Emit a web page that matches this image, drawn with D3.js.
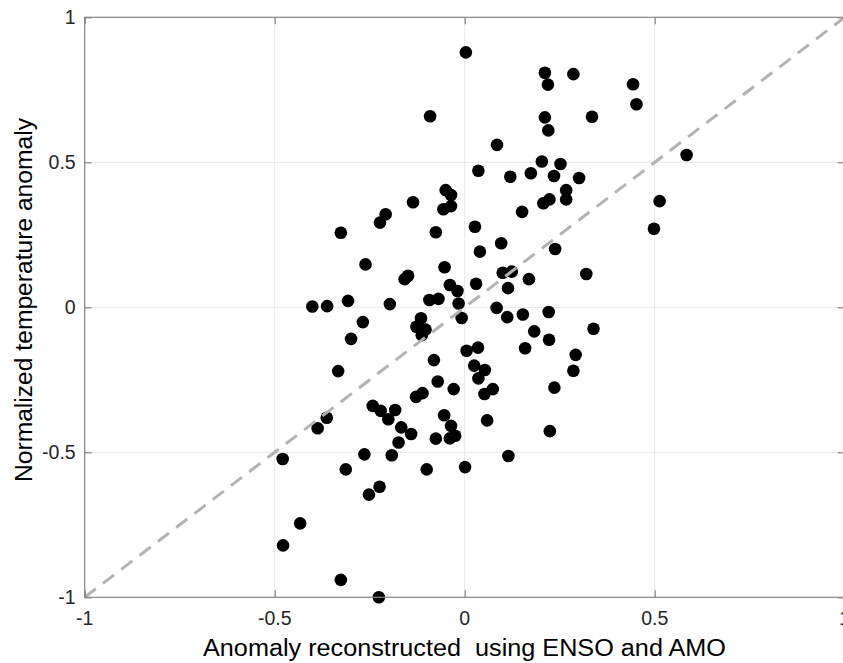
<!DOCTYPE html>
<html>
<head>
<meta charset="utf-8">
<script src="https://cdn.jsdelivr.net/npm/d3@7"></script>
<style>
    body { margin: 0; background: #fff; }
    svg { display: block; font-family: "Liberation Sans", Arial, Helvetica, sans-serif; }
</style>
</head>
<body>
<svg id="chart" width="843" height="663"></svg>
<script>
// reconstructed anomaly (x) and normalized temperature anomaly (y)
const reconstructed = [
    0.003, -0.091, 0.036, -0.050, -0.036, -0.136, -0.056, -0.036, -0.208, -0.223,
    -0.326, -0.076, 0.027, 0.040, -0.261, -0.053, -0.149, -0.158, -0.039, -0.019,
    0.030, -0.401, -0.362, -0.307, -0.197, -0.093, -0.069, -0.016, -0.268, -0.299,
    -0.115, -0.127, -0.103, -0.113, -0.008, 0.005, 0.035, 0.025, 0.036, -0.333,
    -0.081, -0.071, -0.029, -0.128, -0.111, -0.363, -0.387, -0.242, -0.221, -0.183,
    -0.201, -0.167, -0.141, -0.174, -0.054, -0.036, -0.025, -0.039, -0.076, -0.479,
    -0.313, -0.264, -0.192, -0.100, 0.001, -0.224, -0.252, -0.433, -0.478, -0.326,
    -0.226, 0.084, 0.112, 0.153, 0.221, 0.339, 0.183, 0.222, 0.159, 0.292,
    0.286, 0.053, 0.074, 0.052, 0.236, 0.059, 0.224, 0.115, 0.211, 0.286,
    0.219, 0.443, 0.452, 0.211, 0.335, 0.220, 0.085, 0.203, 0.252, 0.584,
    0.120, 0.174, 0.235, 0.301, 0.267, 0.267, 0.223, 0.207, 0.151, 0.513,
    0.498, 0.096, 0.238, 0.100, 0.124, 0.169, 0.114, 0.320
];
const normalized = [
    0.879, 0.659, 0.471, 0.404, 0.387, 0.362, 0.338, 0.349, 0.321, 0.292,
    0.257, 0.259, 0.278, 0.192, 0.148, 0.138, 0.109, 0.097, 0.077, 0.056,
    0.081, 0.003, 0.004, 0.022, 0.011, 0.025, 0.029, 0.013, -0.051, -0.109,
    -0.038, -0.067, -0.077, -0.096, -0.037, -0.150, -0.139, -0.201, -0.245, -0.220,
    -0.182, -0.256, -0.282, -0.309, -0.296, -0.381, -0.417, -0.340, -0.357, -0.354,
    -0.386, -0.414, -0.437, -0.466, -0.372, -0.409, -0.443, -0.452, -0.453, -0.523,
    -0.559, -0.507, -0.510, -0.559, -0.551, -0.619, -0.646, -0.745, -0.821, -0.940,
    -1.000, -0.002, -0.034, -0.025, -0.016, -0.074, -0.083, -0.112, -0.141, -0.164,
    -0.219, -0.216, -0.282, -0.299, -0.277, -0.390, -0.427, -0.513, 0.809, 0.804,
    0.768, 0.769, 0.700, 0.655, 0.657, 0.610, 0.560, 0.503, 0.494, 0.525,
    0.450, 0.462, 0.453, 0.446, 0.404, 0.372, 0.372, 0.359, 0.329, 0.366,
    0.271, 0.221, 0.201, 0.119, 0.123, 0.097, 0.066, 0.115
];

const xTicks = [-1, -0.5, 0, 0.5, 1];
const yTicks = [-1, -0.5, 0, 0.5, 1];
const xTickLabels = ["-1", "-0.5", "0", "0.5", "1"];
const yTickLabels = ["-1", "-0.5", "0", "0.5", "1"];
const identityLine = [[-1, -1], [1, 1]];

const xLabel = "Anomaly reconstructed  using ENSO and AMO";
const yLabel = "Normalized temperature anomaly";

const AXIS_COLOR = "#858585";
const TEXT_COLOR = "#262626";
const GRID_COLOR = "#e8e8e8";
const TICK_LEN = 7;

let svg = d3.select("#chart");

let box = { left: 84.7, top: 17.3, right: 844.7, bottom: 597.3 };

let x = d3.scaleLinear().domain([-1, 1]).range([box.left, box.right]);
let y = d3.scaleLinear().domain([-1, 1]).range([box.bottom, box.top]);

svg.append("rect")
    .attr("width", 843)
    .attr("height", 663)
    .attr("fill", "#fff");

// grid
let gridGroup = svg.append("g").attr("id", "grid-g");
gridGroup.selectAll(".grid-x")
    .data(xTicks.slice(1, -1))
    .enter()
    .append("line")
    .classed("grid-x", true)
    .attr("x1", d => x(d))
    .attr("x2", d => x(d))
    .attr("y1", box.top)
    .attr("y2", box.bottom)
    .attr("stroke", GRID_COLOR)
    .attr("stroke-width", 1);
gridGroup.selectAll(".grid-y")
    .data(yTicks.slice(1, -1))
    .enter()
    .append("line")
    .classed("grid-y", true)
    .attr("x1", box.left)
    .attr("x2", box.right)
    .attr("y1", d => y(d))
    .attr("y2", d => y(d))
    .attr("stroke", GRID_COLOR)
    .attr("stroke-width", 1);

// points
let points = reconstructed.map((val, i) => ({ x: val, y: normalized[i] }));
svg.append("g")
    .attr("id", "point-g")
    .selectAll(".data-point")
    .data(points)
    .enter()
    .append("circle")
    .classed("data-point", true)
    .attr("cx", d => x(d.x))
    .attr("cy", d => y(d.y))
    .attr("r", 6.3)
    .attr("fill", "#000");

// 1:1 reference line, drawn over the points
svg.append("path")
    .datum(identityLine)
    .attr("d", d3.line().x(d => x(d[0])).y(d => y(d[1])))
    .attr("fill", "none")
    .attr("stroke", "#b3b3b3")
    .attr("stroke-width", 3)
    .attr("stroke-dasharray", "14 9");

// axes box + inward ticks on all four sides
let axesGroup = svg.append("g").attr("id", "axes-g");
axesGroup.append("rect")
    .attr("x", box.left)
    .attr("y", box.top)
    .attr("width", box.right - box.left)
    .attr("height", box.bottom - box.top)
    .attr("fill", "none")
    .attr("stroke", AXIS_COLOR)
    .attr("stroke-width", 1.2);

axesGroup.append("g")
    .attr("transform", `translate(0,${box.bottom})`)
    .call(d3.axisBottom(x).tickValues(xTicks).tickSizeInner(-TICK_LEN).tickSizeOuter(0).tickFormat(""))
    .call(g => g.select(".domain").remove());
axesGroup.append("g")
    .attr("transform", `translate(0,${box.top})`)
    .call(d3.axisTop(x).tickValues(xTicks).tickSizeInner(-TICK_LEN).tickSizeOuter(0).tickFormat(""))
    .call(g => g.select(".domain").remove());
axesGroup.append("g")
    .attr("transform", `translate(${box.left},0)`)
    .call(d3.axisLeft(y).tickValues(yTicks).tickSizeInner(-TICK_LEN).tickSizeOuter(0).tickFormat(""))
    .call(g => g.select(".domain").remove());
axesGroup.append("g")
    .attr("transform", `translate(${box.right},0)`)
    .call(d3.axisRight(y).tickValues(yTicks).tickSizeInner(-TICK_LEN).tickSizeOuter(0).tickFormat(""))
    .call(g => g.select(".domain").remove());
axesGroup.selectAll(".tick line")
    .attr("stroke", AXIS_COLOR)
    .attr("stroke-width", 1.2);

// tick labels
axesGroup.selectAll(".x-tick-label")
    .data(xTicks)
    .enter()
    .append("text")
    .classed("x-tick-label", true)
    .attr("x", d => x(d))
    .attr("y", box.bottom + 28)
    .attr("text-anchor", "middle")
    .attr("fill", TEXT_COLOR)
    .style("font-size", "19.5px")
    .text((d, i) => xTickLabels[i]);

axesGroup.selectAll(".y-tick-label")
    .data(yTicks)
    .enter()
    .append("text")
    .classed("y-tick-label", true)
    .attr("x", box.left - 9)
    .attr("y", d => y(d))
    .attr("dy", "0.36em")
    .attr("text-anchor", "end")
    .attr("fill", TEXT_COLOR)
    .style("font-size", "19.5px")
    .text((d, i) => yTickLabels[i]);

// axis titles
svg.append("text")
    .attr("x", 464.5)
    .attr("y", 656)
    .attr("text-anchor", "middle")
    .attr("fill", "#000")
    .style("font-size", "23px")
    .style("white-space", "pre")
    .attr("textLength", 523)
    .attr("lengthAdjust", "spacingAndGlyphs")
    .text(xLabel);

svg.append("text")
    .attr("transform", `translate(32,300) rotate(-90)`)
    .attr("text-anchor", "middle")
    .attr("fill", "#000")
    .style("font-size", "23px")
    .attr("textLength", 364)
    .attr("lengthAdjust", "spacingAndGlyphs")
    .text(yLabel);
</script>
</body>
</html>
